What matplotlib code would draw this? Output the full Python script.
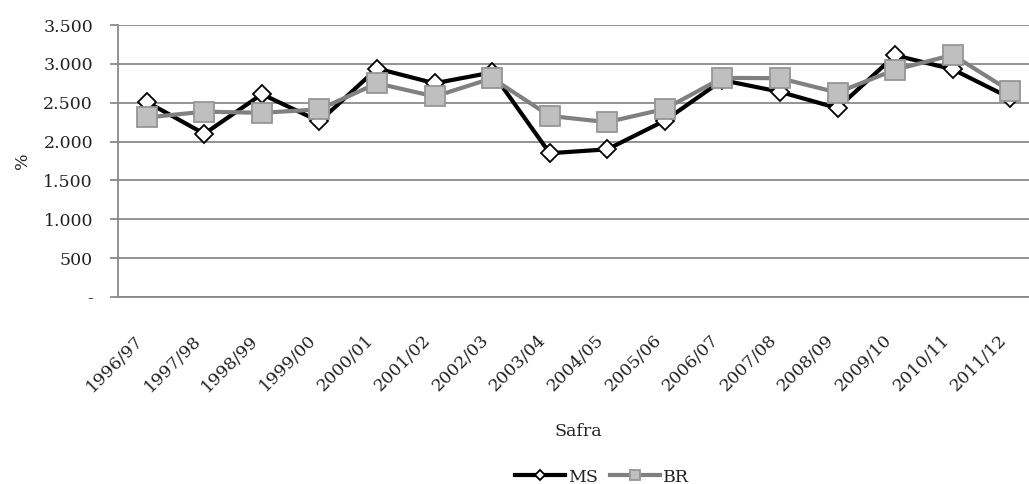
import matplotlib
matplotlib.use("Agg")
import matplotlib.pyplot as plt
from matplotlib.ticker import FuncFormatter, MultipleLocator

safras = ["1996/97", "1997/98", "1998/99", "1999/00", "2000/01", "2001/02",
          "2002/03", "2003/04", "2004/05", "2005/06", "2006/07", "2007/08",
          "2008/09", "2009/10", "2010/11", "2011/12"]
ms = [2510, 2100, 2610, 2260, 2940, 2750, 2890, 1850,
      1900, 2270, 2790, 2640, 2430, 3110, 2930, 2560]
br = [2310, 2385, 2370, 2415, 2750, 2580, 2815, 2330,
      2250, 2420, 2820, 2815, 2630, 2925, 3115, 2650]

plt.rcParams["font.family"] = ["DejaVu Serif"]
grid_gray = "#8a8a8a"
text_color = "#222222"

fig = plt.figure(figsize=(10.29, 4.84), dpi=100)
ax = fig.add_axes([118 / 1029, (484 - 297) / 484, 921 / 1029, 272 / 484])

x = list(range(len(safras)))
ax.plot(x, ms, color="black", lw=3.0, marker="D", ms=9.0,
        mfc="white", mec="black", mew=1.3, label="MS", zorder=3)
ax.plot(x, br, color="#808080", lw=3.0, marker="s", ms=14,
        mfc="#bfbfbf", mec="#969696", mew=1.3, label="BR", zorder=4)

ax.set_xlim(-0.5, len(safras) - 0.5)
ax.set_ylim(0, 3500)
ax.yaxis.set_major_locator(MultipleLocator(500))


def fmt(v, pos):
    if v == 0:
        return "-"
    return f"{int(v):,}".replace(",", ".")


ax.yaxis.set_major_formatter(FuncFormatter(fmt))
ax.grid(axis="y", color=grid_gray, lw=1.3)
ax.set_axisbelow(True)
for side in ("top", "right"):
    ax.spines[side].set_visible(False)
for side in ("left", "bottom"):
    ax.spines[side].set_color(grid_gray)
    ax.spines[side].set_linewidth(1.3)

ax.tick_params(axis="y", length=6, width=1.3, color=grid_gray, pad=12,
               labelsize=12.5, labelcolor=text_color)
ax.tick_params(axis="x", length=0, pad=25, labelsize=12.5, labelcolor=text_color)
ax.set_xticks(x)
ax.set_xticklabels(safras, rotation=45, ha="right", va="top")

ax.set_xlabel("Safra", fontsize=12.5, labelpad=20, color=text_color)
ax.set_ylabel("%", fontsize=12.5, labelpad=9, color=text_color)

fig.legend(loc="center", bbox_to_anchor=(602 / 1029, 1 - 477 / 484),
           ncol=2, frameon=False, fontsize=12.5, handlelength=2.9,
           handletextpad=0.15, columnspacing=0.7, markerscale=0.55,
           labelcolor=text_color)

fig.savefig("out.png", dpi=100)
